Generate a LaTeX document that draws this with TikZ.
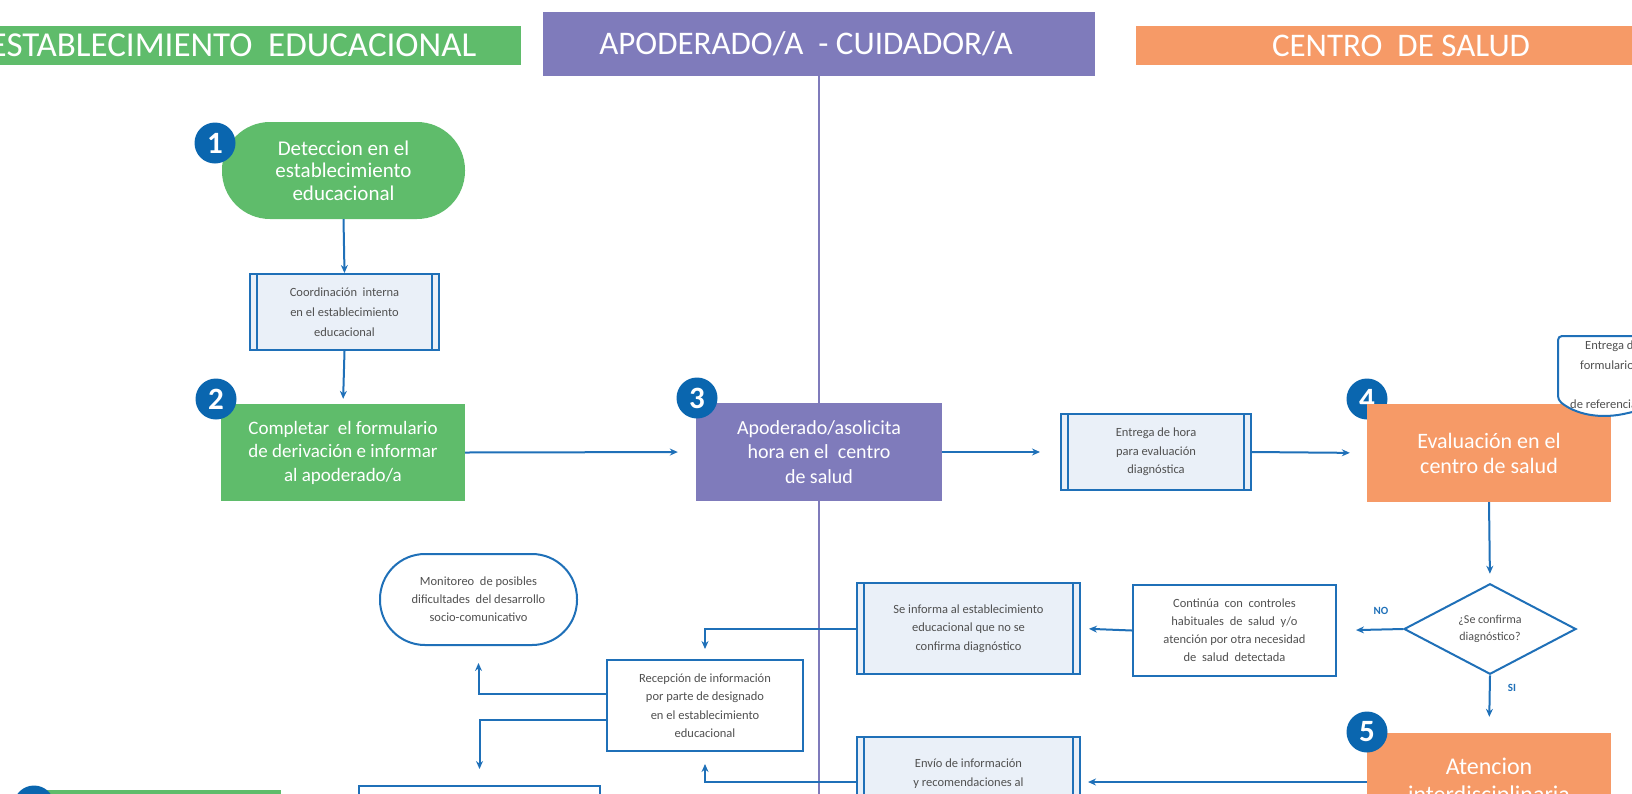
\documentclass[tikz,border=0pt]{standalone}
\usepackage{fontspec}
\setmainfont{Carlito}
\usetikzlibrary{shapes.geometric,arrows.meta}

\definecolor{verde}{HTML}{5FBC6B}
\definecolor{morado}{HTML}{7F7BBB}
\definecolor{naranja}{HTML}{F69A67}
\definecolor{azul}{HTML}{1F70B8}
\definecolor{azulosc}{HTML}{0A66AF}
\definecolor{celeste}{HTML}{EAF0F8}
\definecolor{gristexto}{HTML}{505050}

\begin{document}
\begin{tikzpicture}[x=1pt,y=-1pt,
  cabecera/.style={inner sep=0pt,minimum height=39pt,text=white,font=\fontsize{33}{36}\selectfont},
  paso/.style={inner sep=0pt,minimum width=244pt,minimum height=97pt,text=white,align=center},
  caja/.style={draw=azul,line width=2pt,fill=white,text=gristexto,align=center,inner sep=0pt,font=\fontsize{12.5}{18.5}\selectfont},
  proceso/.style={caja,fill=celeste,path picture={
    \draw[azul,line width=1.5pt] ([xshift=7pt]path picture bounding box.north west) -- ([xshift=7pt]path picture bounding box.south west)
      ([xshift=-7pt]path picture bounding box.north east) -- ([xshift=-7pt]path picture bounding box.south east);}},
  numero/.style={circle,fill=azulosc,minimum size=41pt,inner sep=0pt,text=white,font=\fontsize{31}{31}\selectfont\bfseries},
  flecha/.style={draw=azul,line width=2pt,-{Stealth[length=8pt,width=7pt]}},
  etiqueta/.style={text=azul,font=\fontsize{11}{11}\selectfont\bfseries}]
\useasboundingbox (0,0) rectangle (1632,793);

\node[cabecera,fill=verde,minimum width=576pt,font=\fontsize{35}{38}\selectfont] (encE) at (233,45.5) {ESTABLECIMIENTO\ \ EDUCACIONAL};
\node[cabecera,fill=morado,minimum width=552pt,minimum height=64pt] (encA) at (819,44) {APODERADO/A\ \ -\ CUIDADOR/A\hspace*{26pt}};
\node[cabecera,fill=naranja,minimum width=530pt] (encC) at (1401,45.5) {CENTRO\ \ DE SALUD};
\coordinate (fondo) at (819,800);
\draw[morado,line width=2pt] (encA.south) -- (fondo);

\node[paso,fill=verde,minimum width=243pt,rounded corners=48pt,font=\fontsize{21}{22.5}\selectfont] (n1) at (343.5,170.5) {Deteccion en el\\establecimiento\\educacional};
\node[proceso,minimum width=189pt,minimum height=76pt,font=\fontsize{12.5}{20}\selectfont] (coord) at (344.5,312) {Coordinación\ \ interna\\en el establecimiento\\educacional};
\node[paso,fill=verde,font=\fontsize{19}{23.5}\selectfont] (n2) at (343,452.5) {Completar\ \ el formulario\\de derivación e informar\\al apoderado/a};
\node[paso,fill=morado,minimum width=246pt,minimum height=98pt,font=\fontsize{20}{24.5}\selectfont] (n3) at (819,452) {Apoderado/asolicita\\hora en el\ \ centro\\de salud};
\node[proceso,minimum width=190pt,minimum height=76pt] (entrega) at (1156,452) {Entrega de hora\\para evaluación\\diagnóstica};
\node[numero] (b4) at (1367,399) {\raisebox{-15pt}{4}};
\node[paso,fill=naranja,minimum height=98pt,font=\fontsize{22}{25}\selectfont] (n4) at (1489,453) {Evaluación en el\\centro de salud};
\draw[azul,line width=2pt,fill=white,rounded corners=4pt] (1680,336) -- (1558,336) -- (1558,400) .. controls (1575,414) and (1600,420) .. (1632,412) -- (1680,404);
\node[anchor=north west,inner sep=0pt,align=left,text=gristexto,font=\fontsize{12.5}{19.5}\selectfont] (formulario) at (1570,341) {\hspace*{15pt}Entrega de\\\hspace*{10pt}formulario\\\mbox{}\\de referencia};
\node[diamond,draw=azul,line width=2pt,fill=white,inner sep=0pt,minimum width=172pt,minimum height=81pt,text=gristexto,align=center,font=\fontsize{12}{17}\selectfont] (decision) at (1490,629) {¿Se confirma\\diagnóstico?};
\node[caja,minimum width=203pt,minimum height=91pt,font=\fontsize{12.5}{18}\selectfont] (continua) at (1234.5,630.5) {Continúa\ \ con\ \ controles\\habituales\ \ de\ \ salud\ \ y/o\\atención por otra necesidad\\de\ \ salud\ \ detectada};
\node[proceso,minimum width=223pt,minimum height=91pt] (seinforma) at (968.5,628.5) {Se informa al establecimiento\\educacional que no se\\confirma diagnóstico};
\node[caja,minimum width=196pt,minimum height=91pt] (recepcion) at (705,705.5) {Recepción de información\\por parte de designado\\en el establecimiento\\educacional};
\node[caja,minimum width=197pt,minimum height=91pt,rounded corners=45pt,font=\fontsize{12.5}{18}\selectfont] (monitoreo) at (478.5,599.5) {Monitoreo\ \ de posibles\\dificultades\ \ del desarrollo\\socio-comunicativo};
\node[caja,minimum width=241pt,minimum height=64pt] (abajo) at (479.5,818) {};
\node[proceso,minimum width=223pt,minimum height=90pt] (envio) at (968.5,782) {Envío de información\\y recomendaciones al\\\mbox{}};
\node[paso,fill=naranja,minimum height=98pt,font=\fontsize{24}{28}\selectfont] (n5) at (1489,782) {Atencion\\interdisciplinaria};
\node[paso,fill=verde,minimum width=234pt,minimum height=96pt] (n6) at (164,838) {};

\node[numero] (b1) at (215,143) {1};
\node[numero] (b2) at (216,399) {2};
\node[numero] (b3) at (697,398) {3};
\node[numero] (b5) at (1367,732) {5};
\node[numero] (b6) at (34,806) {6};

\draw[flecha] (n1.south) -- (coord.north);
\draw[flecha,shorten >=5pt] (coord.south) -- (n2.north);
\draw[flecha,shorten >=18pt] (n2.east) -- (n3.west);
\draw[flecha,shorten >=20pt] (n3.east) -- (entrega.west);
\draw[flecha,shorten >=17pt] (entrega.east) -- (n4.west);
\draw[flecha,shorten >=9pt] (n4.south) -- (decision.north);
\draw[flecha,shorten >=19pt] (decision.west) -- (continua.east);
\node[etiqueta] (no) at (1381,611) {NO};
\draw[flecha,shorten >=16pt] (decision.south) -- (n5.north);
\node[etiqueta] (si) at (1512,688) {SI};
\draw[flecha,shorten >=8pt] (continua.west) -- (seinforma.east);
\draw[flecha,shorten >=10pt] (seinforma.west) -| (recepcion.north);
\draw[flecha,shorten >=7pt] (n5.west) -- (envio.east);
\draw[flecha,shorten >=12pt] (envio.west) -| (recepcion.south);
\draw[flecha,shorten >=17pt] ([yshift=11.5pt]recepcion.west) -| (monitoreo.south);
\draw[flecha,shorten >=16pt] ([yshift=-14.5pt]recepcion.west) -| (abajo.north);
\end{tikzpicture}
\end{document}
